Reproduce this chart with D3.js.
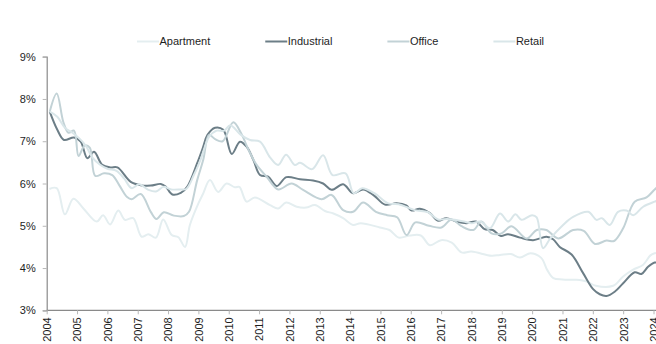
<!DOCTYPE html>
<html>
<head>
<meta charset="utf-8">
<script src="https://cdn.jsdelivr.net/npm/d3@7"></script>
<style>
  html, body { margin: 0; padding: 0; background: #fff; }
  svg { display: block; font-family: "Liberation Sans", Arial, sans-serif; }
</style>
</head>
<body>
<svg id="chart" width="656" height="344"></svg>
<script>
// Cap rates by property type, %, 2004–2024
const seriesNames = ["Apartment", "Industrial", "Office", "Retail"];
const seriesColors = ["#e4eef0", "#6c7e87", "#c2d2d6", "#d9e6e9"];
const yTicks = [3, 4, 5, 6, 7, 8, 9];
const xYears = d3.range(2004, 2025);

const apartmentYears = [2004.09, 2004.33, 2004.6, 2004.88, 2005.21, 2005.65, 2005.86, 2006.09, 2006.36, 2006.58, 2006.85, 2007.13, 2007.35, 2007.6, 2007.84, 2008.12, 2008.34, 2008.56, 2008.72, 2009.0, 2009.15, 2009.38, 2009.65, 2009.93, 2010.2, 2010.35, 2010.59, 2010.86, 2011.36, 2011.63, 2011.89, 2012.24, 2012.55, 2012.84, 2013.17, 2013.45, 2013.77, 2014.1, 2014.35, 2014.98, 2015.3, 2015.6, 2015.97, 2016.33, 2016.63, 2017.0, 2017.35, 2017.67, 2018.0, 2018.66, 2018.94, 2019.3, 2019.6, 2019.95, 2020.3, 2020.5, 2020.7, 2021.0, 2021.46, 2021.8, 2022.1, 2022.67, 2023.0, 2023.33, 2023.66, 2023.9, 2024.04, 2024.15];
const apartmentValues = [5.87, 5.89, 5.27, 5.64, 5.41, 5.10, 5.25, 5.03, 5.36, 5.14, 5.18, 4.74, 4.80, 4.72, 5.15, 4.78, 4.73, 4.50, 5.02, 5.53, 5.75, 6.08, 5.80, 6.00, 5.91, 5.92, 5.57, 5.67, 5.49, 5.41, 5.55, 5.45, 5.43, 5.49, 5.35, 5.29, 5.18, 5.02, 5.06, 4.96, 4.90, 4.72, 4.77, 4.77, 4.54, 4.66, 4.60, 4.37, 4.39, 4.29, 4.31, 4.33, 4.25, 4.35, 4.24, 3.95, 3.76, 3.73, 3.72, 3.68, 3.58, 3.58, 3.80, 3.96, 4.08, 4.30, 4.35, 4.36];

const industrialYears = [2004.1, 2004.35, 2004.57, 2004.9, 2005.12, 2005.34, 2005.56, 2005.83, 2006.1, 2006.33, 2006.77, 2007.1, 2007.43, 2007.76, 2007.92, 2008.14, 2008.42, 2008.63, 2008.96, 2009.15, 2009.3, 2009.55, 2009.82, 2010.1, 2010.37, 2010.59, 2010.81, 2011.03, 2011.3, 2011.58, 2011.9, 2012.35, 2012.78, 2013.11, 2013.39, 2013.77, 2014.1, 2014.43, 2014.78, 2015.15, 2015.53, 2015.85, 2016.03, 2016.3, 2016.63, 2016.9, 2017.17, 2017.5, 2017.83, 2018.15, 2018.43, 2018.7, 2018.97, 2019.2, 2019.6, 2020.03, 2020.47, 2020.69, 2020.91, 2021.3, 2021.68, 2022.01, 2022.23, 2022.45, 2022.72, 2023.0, 2023.38, 2023.6, 2023.82, 2024.04, 2024.15];
const industrialValues = [7.70, 7.27, 7.03, 7.09, 6.99, 6.60, 6.75, 6.44, 6.38, 6.38, 6.04, 5.96, 5.95, 5.99, 5.93, 5.74, 5.78, 5.92, 6.48, 6.85, 7.15, 7.32, 7.27, 6.70, 6.99, 6.87, 6.56, 6.20, 6.16, 5.94, 6.15, 6.10, 6.07, 6.00, 5.85, 5.98, 5.77, 5.86, 5.72, 5.50, 5.53, 5.48, 5.36, 5.40, 5.30, 5.12, 5.18, 5.10, 5.06, 5.10, 4.92, 4.90, 4.76, 4.80, 4.72, 4.66, 4.74, 4.68, 4.50, 4.32, 3.88, 3.50, 3.38, 3.34, 3.44, 3.64, 3.90, 3.86, 4.03, 4.13, 4.12];

const officeYears = [2004.1, 2004.33, 2004.55, 2004.72, 2004.9, 2005.05, 2005.25, 2005.42, 2005.6, 2005.89, 2006.16, 2006.4, 2006.65, 2006.8, 2007.1, 2007.43, 2007.62, 2007.86, 2008.19, 2008.52, 2008.69, 2008.96, 2009.16, 2009.35, 2009.55, 2009.8, 2010.15, 2010.4, 2010.65, 2010.92, 2011.25, 2011.63, 2012.07, 2012.45, 2013.06, 2013.39, 2013.77, 2014.1, 2014.43, 2014.85, 2015.22, 2015.55, 2015.86, 2016.15, 2016.6, 2017.01, 2017.34, 2017.67, 2018.06, 2018.33, 2018.66, 2018.99, 2019.32, 2019.82, 2020.15, 2020.47, 2020.86, 2021.35, 2021.7, 2022.07, 2022.45, 2022.7, 2023.0, 2023.38, 2023.77, 2024.04, 2024.15];
const officeValues = [7.70, 8.13, 7.45, 7.20, 7.25, 6.65, 6.90, 6.85, 6.18, 6.24, 6.20, 5.95, 5.68, 5.63, 5.75, 5.33, 5.16, 5.32, 5.24, 5.23, 5.33, 6.08, 6.56, 7.15, 7.05, 7.00, 7.45, 7.20, 6.80, 6.44, 6.16, 5.86, 6.00, 5.85, 5.63, 5.73, 5.37, 5.33, 5.55, 5.33, 5.25, 5.20, 4.78, 5.08, 5.00, 4.96, 5.15, 4.99, 4.90, 5.10, 4.82, 4.82, 4.99, 4.70, 4.90, 4.90, 4.70, 4.90, 4.88, 4.57, 4.65, 4.64, 4.94, 5.57, 5.67, 5.86, 5.92];

const retailYears = [2004.1, 2004.35, 2004.6, 2004.85, 2005.1, 2005.3, 2005.5, 2005.75, 2006.0, 2006.3, 2006.55, 2006.8, 2007.05, 2007.35, 2007.6, 2007.85, 2008.1, 2008.4, 2008.6, 2008.85, 2009.07, 2009.35, 2009.6, 2009.85, 2010.05, 2010.4, 2010.7, 2011.03, 2011.36, 2011.63, 2011.89, 2012.18, 2012.35, 2012.75, 2013.11, 2013.42, 2013.85, 2014.12, 2014.4, 2014.8, 2015.26, 2015.6, 2016.13, 2016.57, 2016.9, 2017.2, 2017.45, 2017.75, 2018.0, 2018.3, 2018.61, 2018.94, 2019.21, 2019.45, 2019.65, 2020.0, 2020.15, 2020.36, 2020.6, 2021.02, 2021.35, 2021.85, 2022.12, 2022.3, 2022.56, 2022.83, 2023.11, 2023.33, 2023.66, 2024.04, 2024.15];
const retailValues = [7.70, 7.58, 7.32, 7.20, 7.05, 6.88, 6.62, 6.45, 6.35, 6.30, 6.12, 5.89, 5.98, 5.85, 5.81, 5.92, 5.86, 5.86, 5.87, 6.20, 6.56, 7.10, 7.25, 7.25, 7.38, 7.15, 7.03, 6.99, 6.62, 6.44, 6.68, 6.44, 6.49, 6.34, 6.67, 6.20, 6.24, 5.77, 5.89, 5.77, 5.53, 5.51, 5.37, 5.32, 5.15, 5.16, 5.14, 5.10, 5.06, 5.10, 4.94, 5.29, 5.10, 5.27, 5.14, 5.25, 5.20, 4.47, 4.70, 5.02, 5.21, 5.33, 5.14, 5.18, 5.02, 5.33, 5.36, 5.25, 5.45, 5.57, 5.60];

const seriesYears = [apartmentYears, industrialYears, officeYears, retailYears];
const seriesValues = [apartmentValues, industrialValues, officeValues, retailValues];

const svg = d3.select("#chart");
const margin = { left: 46.7, right: 2.5, top: 56.7, bottom: 33.7 };
const W = 656, H = 344;

const x = d3.scaleLinear().domain([2004, 2024]).range([margin.left, W - margin.right]);
const y = d3.scaleLinear().domain([3, 9]).range([H - margin.bottom, margin.top]);

const axisColor = "#8a8a8a";
const textColor = "#1e1e1e";

// Y axis
const yAxis = svg.append("g")
  .attr("transform", `translate(${margin.left},0)`)
  .call(d3.axisLeft(y).tickValues(yTicks).tickSize(4).tickPadding(7).tickFormat(d => d + "%"));
yAxis.select(".domain").attr("stroke", axisColor).attr("stroke-width", 1.2);
yAxis.selectAll(".tick line").attr("stroke", "#b8b8b8");
yAxis.selectAll(".tick text").attr("fill", textColor).style("font-size", "11px")
  .style("font-family", '"Liberation Sans", Arial, sans-serif');

// X axis
const xAxis = svg.append("g")
  .attr("transform", `translate(0,${y(3)})`)
  .call(d3.axisBottom(x).tickValues(xYears).tickSize(4).tickFormat(d3.format("d")));
xAxis.select(".domain").attr("stroke", axisColor).attr("stroke-width", 1.2)
  .attr("d", `M${margin.left},0H${W}`);
xAxis.selectAll(".tick line").attr("stroke", "#b8b8b8");
xAxis.selectAll(".tick text")
  .attr("fill", textColor)
  .style("font-size", "11px")
  .style("font-family", '"Liberation Sans", Arial, sans-serif')
  .attr("text-anchor", "end")
  .attr("transform", "rotate(-90)")
  .attr("x", -7)
  .attr("y", 0)
  .attr("dy", "0.35em");

// Lines
const line = d3.line()
  .x(d => x(d[0]))
  .y(d => y(d[1]))
  .curve(d3.curveCatmullRom.alpha(0.5));

seriesNames.forEach((name, i) => {
  const pts = seriesYears[i].map((yr, j) => [yr, seriesValues[i][j]]);
  svg.append("path")
    .datum(pts)
    .attr("fill", "none")
    .attr("stroke", seriesColors[i])
    .attr("stroke-width", 2)
    .attr("stroke-linejoin", "round")
    .attr("d", line);
});

// Legend
const legend = svg.append("g");
let lx = 137;
const ly = 41.5;
seriesNames.forEach((name, i) => {
  legend.append("line")
    .attr("x1", lx).attr("x2", lx + 22)
    .attr("y1", ly).attr("y2", ly)
    .attr("stroke", seriesColors[i]).attr("stroke-width", 2);
  const t = legend.append("text")
    .attr("x", lx + 22.5).attr("y", ly).attr("dy", "0.35em")
    .attr("fill", textColor)
    .style("font-size", "11px")
    .text(name);
  lx += 22.5 + t.node().getComputedTextLength() + 55;
});
</script>
</body>
</html>
